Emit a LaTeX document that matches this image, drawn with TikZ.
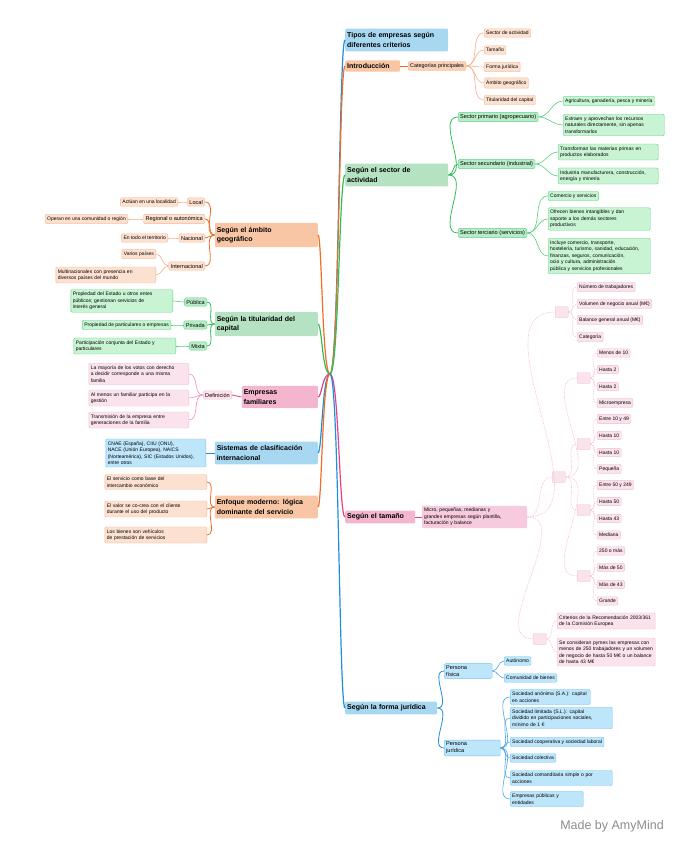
\documentclass[tikz,border=0pt]{standalone}
\usepackage{fontspec}
\setmainfont{Liberation Sans}
\usetikzlibrary{calc}
\definecolor{oLine}{HTML}{F26C22}
\definecolor{oMain}{HTML}{F9C6A5}
\definecolor{oLeaf}{HTML}{FDE1D0}
\definecolor{oEdge}{HTML}{F8B790}
\definecolor{gLine}{HTML}{2EC056}
\definecolor{gMain}{HTML}{B4E2C2}
\definecolor{gMid}{HTML}{B9EBC8}
\definecolor{gLeaf}{HTML}{C8F4D4}
\definecolor{gEdge}{HTML}{5CD67F}
\definecolor{bLine}{HTML}{1D8FDD}
\definecolor{bMain}{HTML}{A8D8F1}
\definecolor{bLeaf}{HTML}{BEE6FB}
\definecolor{bEdge}{HTML}{6CC3F0}
\definecolor{pLine}{HTML}{E5418A}
\definecolor{pMain}{HTML}{F4B5CE}
\definecolor{pLeaf}{HTML}{FBE3ED}
\definecolor{pEdge}{HTML}{F4BDD3}
\definecolor{pSoft}{HTML}{F6C3D7}
\definecolor{brandgray}{HTML}{8C8C8C}

\begin{document}
\begin{tikzpicture}[x=1pt, y=-1pt,
	box/.style={rounded corners=1.2pt, inner xsep=2pt, inner ysep=2.4pt, align=left,
		anchor=west, font=\fontsize{5}{6.5}\selectfont},
	main/.style={box, inner ysep=4pt, text width=99pt, font=\bfseries\fontsize{7}{9.5}\selectfont},
	mid/.style={box, inner ysep=2pt, font=\fontsize{5.6}{6.8}\selectfont},
	mainO/.style={main, fill=oMain}, mainG/.style={main, fill=gMain},
	mainB/.style={main, fill=bMain}, mainP/.style={main, fill=pMain},
	leafO/.style={box, fill=oLeaf, draw=oEdge, line width=.4pt},
	leafG/.style={box, fill=gLeaf, draw=gEdge, line width=.4pt},
	leafB/.style={box, fill=bLeaf, draw=bEdge, line width=.4pt},
	leafP/.style={box, fill=pLeaf, draw=pEdge, line width=.4pt},
	midO/.style={mid, fill=oLeaf, draw=oEdge, line width=.4pt},
	midG/.style={mid, fill=gMid, draw=gEdge, line width=.4pt},
	midB/.style={mid, fill=bLeaf, draw=bEdge, line width=.4pt},
	midP/.style={mid, fill=pLeaf, draw=pEdge, line width=.4pt},
	dot/.style={rounded corners=1pt, fill=pLeaf, draw=pEdge, line width=.4pt,
		minimum width=13pt, minimum height=11pt, inner sep=0pt, anchor=west},
	wire/.style={line width=1.2pt},
	twig/.style={line width=.8pt},
	soft/.style={pSoft, line width=.6pt, dash pattern=on 1.5pt off 1pt}]

	\useasboundingbox (0,0) rectangle (698,848);

	\coordinate (root) at (330,374); % the centre
	\coordinate (spR) at (339,374);
	\coordinate (spL) at (322,374);

	% ---------- right side
	\node[mainB] (tipos) at (345,40) {Tipos de empresas según\\diferentes criterios};

	\node[mainO, text width=51pt, inner ysep=3pt] (intro) at (345,66) {Introducción};
	\node[midO, fill=oMain!80, font=\fontsize{5.4}{6.5}\selectfont] (categ) at (408,66) {Categorías principales};
	\node[leafO] (cat1) at (484,33)  {Sector de actividad};
	\node[leafO] (cat2) at (484,50)  {Tamaño};
	\node[leafO] (cat3) at (484,67)  {Forma jurídica};
	\node[leafO] (cat4) at (484,83)  {Ámbito geográfico};
	\node[leafO] (cat5) at (484,100) {Titularidad del capital};

	\node[mainG] (sector) at (345,175) {Según el sector de\\actividad};
	\node[midG] (prim) at (458,117) {Sector primario (agropecuario)};
	\node[leafG] (prim1) at (563,101) {Agricultura, ganadería, pesca y minería};
	\node[leafG, text width=97pt] (prim2) at (563,125)
		{Extraen y aprovechan los recursos\\naturales directamente, sin apenas\\transformarlos};
	\node[midG] (secu) at (458,164) {Sector secundario (industrial)};
	\node[leafG, text width=96pt] (secu1) at (558,152) {Transforman las materias primas en\\productos elaborados};
	\node[leafG, text width=96pt] (secu2) at (558,176) {Industria manufacturera, construcción,\\energía y minería};
	\node[midG] (terc) at (458,233) {Sector terciario (servicios)};
	\node[leafG] (terc1) at (548,196) {Comercio y servicios};
	\node[leafG, text width=98pt] (terc2) at (548,219)
		{Ofrecen bienes intangibles y dan\\soporte a los demás sectores\\productivos};
	\node[leafG, text width=98pt] (terc3) at (548,256)
		{Incluye comercio, transporte,\\hostelería, turismo, sanidad, educación,\\finanzas, seguros, comunicación,\\ocio y cultura, administración\\pública y servicios profesionales};

	\node[mainP, text width=66pt, inner ysep=3pt] (tamano) at (345,517) {Según el tamaño};
	\node[leafP, fill=pMain!70, draw=none, text width=101pt] (tamdesc) at (422,517)
		{Micro, pequeñas, medianas y\\grandes empresas según plantilla,\\facturación y balance};
	\node[dot] (grpA) at (555,312) {};
	\node[leafP] (a1) at (577,287) {Número de trabajadores};
	\node[leafP] (a2) at (577,304) {Volumen de negocio anual (M€)};
	\node[leafP] (a3) at (577,320) {Balance general anual (M€)};
	\node[leafP] (a4) at (577,337) {Categoría};
	\node[dot] (grpB) at (552,477) {};
	\foreach \g/\yy/\ta/\tb/\tc/\td in {
		1/378/Menos de 10/Hasta 2/Hasta 2/Microempresa,
		2/444/Entre 10 y 49/Hasta 10/Hasta 10/Pequeña,
		3/510/Entre 50 y 249/Hasta 50/Hasta 43/Mediana,
		4/576/250 o más/Más de 50/Más de 43/Grande}{
		\node[dot] (b\g) at (577,\yy) {};
		\node[leafP] (b\g1) at (597,\yy-25) {\ta};
		\node[leafP] (b\g2) at (597,\yy-8.5) {\tb};
		\node[leafP] (b\g3) at (597,\yy+8.5) {\tc};
		\node[leafP] (b\g4) at (597,\yy+25) {\td};
		\draw[soft] (grpB.east) to[out=0,in=180] (b\g.west);
		\foreach \k in {1,...,4}
			\draw[soft] (b\g.east) to[out=0,in=180] (b\g\k.west);
	}
	\node[dot] (grpC) at (533,639) {};
	\node[leafP, text width=94pt] (c1) at (557,621) {Criterios de la Recomendación 2003/361\\de la Comisión Europea};
	\node[leafP, text width=94pt] (c2) at (557,652)
		{Se consideran pymes las empresas con\\menos de 250 trabajadores y un volumen\\de negocio de hasta 50 M€ o un balance\\de hasta 43 M€};

	\node[mainB, text width=88pt, inner ysep=3pt] (juridica) at (345,708) {Según la forma jurídica};
	\node[midB, text width=44pt] (fisica) at (444,671) {Persona\\física};
	\node[leafB] (fis1) at (504,661) {Autónomo};
	\node[leafB] (fis2) at (504,678) {Comunidad de bienes};
	\node[midB, text width=52pt] (pjur) at (444,748) {Persona\\jurídica};
	\node[leafB, text width=76pt] (j1) at (510,697) {Sociedad anónima (S.A.): capital\\en acciones};
	\node[leafB, text width=98pt] (j2) at (510,718)
		{Sociedad limitada (S.L.): capital\\dividido en participaciones sociales,\\mínimo de 1 €};
	\node[leafB] (j3) at (510,742) {Sociedad cooperativa y sociedad laboral};
	\node[leafB] (j4) at (510,758) {Sociedad colectiva};
	\node[leafB, text width=98pt] (j5) at (510,778) {Sociedad comanditaria simple o por\\acciones};
	\node[leafB, text width=69pt] (j6) at (510,799) {Empresas públicas y\\entidades};

	% ---------- left side
	\node[mainO, anchor=east] (ambito) at (318,235) {Según el ámbito\\geográfico};
	\node[midO, anchor=east] (local) at (205,202) {Local};
	\node[leafO, anchor=east] (local1) at (178,202) {Actúan en una localidad};
	\node[midO, anchor=east] (region) at (205,219) {Regional o autonómica};
	\node[leafO, anchor=east] (region1) at (128,219) {Operan en una comunidad o región};
	\node[midO, anchor=east] (nacion) at (205,238) {Nacional};
	\node[leafO, anchor=east] (nacion1) at (168,238) {En todo el territorio};
	\node[midO, anchor=east] (inter) at (205,266) {Internacional};
	\node[leafO, anchor=east] (inter1) at (156,254) {Varios países};
	\node[leafO, anchor=east, text width=96pt] (inter2) at (156,275)
		{Multinacionales con presencia en\\diversos países del mundo};

	\node[mainG, anchor=east] (titular) at (318,324) {Según la titularidad del\\capital};
	\node[midG, anchor=east] (publica) at (207,302) {Pública};
	\node[leafG, anchor=east, text width=98pt] (publica1) at (173,301)
		{Propiedad del Estado u otros entes\\públicos; gestionan servicios de\\interés general};
	\node[midG, anchor=east] (privada) at (207,325) {Privada};
	\node[leafG, anchor=east] (privada1) at (171,325) {Propiedad de particulares o empresas};
	\node[midG, anchor=east] (mixta) at (207,346) {Mixta};
	\node[leafG, anchor=east, text width=98pt] (mixta1) at (176,346)
		{Participación conjunta del Estado y\\particulares};

	\node[mainP, anchor=east, text width=72pt] (familia) at (318,397) {Empresas\\familiares};
	\node[midP, anchor=east] (defin) at (232,395) {Definición};
	\node[leafP, anchor=east, text width=96pt] (def1) at (189,374)
		{La mayoría de los votos con derecho\\a decidir corresponde a una misma\\familia};
	\node[leafP, anchor=east, text width=96pt] (def2) at (189,398) {Al menos un familiar participa en la\\gestión};
	\node[leafP, anchor=east, text width=96pt] (def3) at (189,420) {Transmisión de la empresa entre\\generaciones de la familia};

	\node[mainB, anchor=east] (sistemas) at (318,453) {Sistemas de clasificación\\internacional};
	\node[leafB, anchor=east, text width=96pt] (sist1) at (206,453)
		{CNAE (España), CIIU (ONU),\\NACE (Unión Europea), NAICS\\(Norteamérica), SIC (Estados Unidos),\\entre otros};

	\node[mainO, anchor=east] (enfoque) at (318,507) {Enfoque moderno: lógica\\dominante del servicio};
	\node[leafO, anchor=east, text width=98pt] (enf1) at (207,482) {El servicio como base del\\intercambio económico};
	\node[leafO, anchor=east, text width=98pt] (enf2) at (207,509) {El valor se co-crea con el cliente\\durante el uso del producto};
	\node[leafO, anchor=east, text width=98pt] (enf3) at (207,535) {Los bienes son vehículos\\de prestación de servicios};

	% ---------- spine
	\foreach \n/\col in {tipos/bLine, intro/oLine, sector/gLine, tamano/pLine, juridica/bLine}
		\draw[wire, \col] (root) .. controls (spR) and (\n.west -| spR) .. (\n.west);
	\foreach \n/\col in {ambito/oLine, titular/gLine, familia/pLine, sistemas/bLine, enfoque/oLine}
		\draw[wire, \col] (root) .. controls (spL) and (\n.east -| spL) .. (\n.east);

	% ---------- right links
	\draw[twig, oLine] (intro.east) -- (categ.west);
	\foreach \c in {cat1,cat2,cat3,cat4,cat5}
		\draw[oLine!55, line width=.6pt] (categ.east) to[out=0,in=180] (\c.west);
	\foreach \c in {prim,secu,terc}
		\draw[twig, gLine] (sector.east) to[out=0,in=180] (\c.west);
	\foreach \p/\c in {prim/prim1,prim/prim2,secu/secu1,secu/secu2,terc/terc1,terc/terc2,terc/terc3}
		\draw[gLine!80, line width=.6pt] (\p.east) to[out=0,in=180] (\c.west);
	\draw[twig, pLine] (tamano.east) -- (tamdesc.west);
	\foreach \c in {grpA,grpB,grpC}
		\draw[soft] (tamdesc.east) to[out=0,in=180] (\c.west);
	\foreach \c in {a1,a2,a3,a4}
		\draw[soft] (grpA.east) to[out=0,in=180] (\c.west);
	\foreach \c in {c1,c2}
		\draw[soft] (grpC.east) to[out=0,in=180] (\c.west);
	\foreach \c in {fisica,pjur}
		\draw[twig, bLine] (juridica.east) to[out=0,in=180] (\c.west);
	\foreach \p/\c in {fisica/fis1,fisica/fis2,pjur/j1,pjur/j2,pjur/j3,pjur/j4,pjur/j5,pjur/j6}
		\draw[bLine!80, line width=.6pt] (\p.east) to[out=0,in=180] (\c.west);

	% ---------- left links
	\foreach \c in {local,region,nacion,inter}
		\draw[twig, oLine] (ambito.west) to[out=180,in=0] (\c.east);
	\foreach \p/\c in {local/local1,region/region1,nacion/nacion1,inter/inter1,inter/inter2}
		\draw[oLine!55, line width=.6pt] (\p.west) to[out=180,in=0] (\c.east);
	\foreach \c in {publica,privada,mixta}
		\draw[twig, gLine] (titular.west) to[out=180,in=0] (\c.east);
	\foreach \p/\c in {publica/publica1,privada/privada1,mixta/mixta1}
		\draw[gLine!80, line width=.6pt] (\p.west) to[out=180,in=0] (\c.east);
	\draw[twig, pLine] (familia.west) -- (defin.east);
	\foreach \c in {def1,def2,def3}
		\draw[pLine!60, line width=.6pt] (defin.west) to[out=180,in=0] (\c.east);
	\draw[twig, bLine] (sistemas.west) -- (sist1.east);
	\foreach \c in {enf1,enf2,enf3}
		\draw[twig, oLine] (enfoque.west) to[out=180,in=0] (\c.east);

	\node[font=\fontsize{12.5}{14}\selectfont, text=brandgray] (brand) at (612,826) {Made by AmyMind};

\end{tikzpicture}
\end{document}
